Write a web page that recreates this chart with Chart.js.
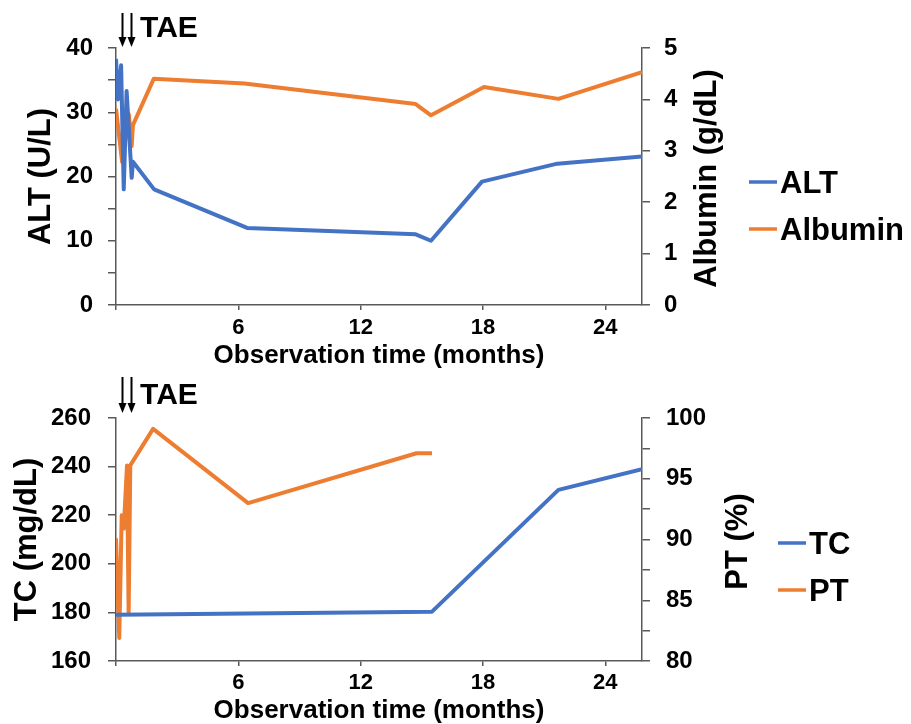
<!DOCTYPE html>
<html>
<head>
<meta charset="utf-8">
<script src="https://cdn.jsdelivr.net/npm/chart.js@4.4.1/dist/chart.umd.min.js"></script>
<style>
  html, body { margin: 0; padding: 0; background: #fff; }
  canvas { display: block; }
</style>
</head>
<body>
<canvas id="topChart" width="911" height="370"></canvas>
<canvas id="bottomChart" width="911" height="354"></canvas>
<script>
// observation time in months
const altMonths = [0, 0.1, 0.25, 0.38, 0.52, 0.77, 0.83, 1.87, 6.43, 14.7, 15.45, 17.95, 21.65, 25.8];
const altValues = [38.3, 32, 37.3, 18, 33.3, 19.8, 22.3, 18, 12, 11, 10, 19.2, 22, 23.1];
const albMonths = [0, 0.3, 0.63, 0.77, 0.83, 1.85, 6.3, 14.7, 15.45, 18.05, 21.7, 25.8];
const albValues = [3.82, 2.78, 3.71, 3.09, 3.5, 4.4, 4.31, 3.91, 3.69, 4.24, 4.01, 4.53];
const tcMonths = [0, 15.5, 21.7, 25.8];
const tcValues = [179, 180.3, 230.4, 238.9];
const ptMonths = [0, 0.16, 0.28, 0.38, 0.54, 0.62, 0.7, 1.82, 6.48, 14.74, 15.5];
const ptValues = [90.1, 81.9, 92, 90.9, 96.1, 83.9, 96.1, 99.1, 93, 97.1, 97.1];
const taeMonths = [0.28, 0.74];
const monthTicks = [0, 6, 12, 18, 24];

const FONT = '"Liberation Sans", Arial, sans-serif';
const AXIS = '#595959';
const BLUE = '#4472C4';
const ORANGE = '#ED7D31';

function points(xs, ys) {
  return xs.map((m, i) => ({ x: m, y: ys[i] }));
}

// TAE arrows, right axis title (reads upward) and legend
const decorPlugin = {
  id: 'decor',
  afterDraw(chart, args, opts) {
    const ctx = chart.ctx;
    const xs = chart.scales.x;
    const area = chart.chartArea;

    ctx.save();
    ctx.strokeStyle = '#000';
    ctx.fillStyle = '#000';
    ctx.lineWidth = 2;
    taeMonths.forEach(m => {
      const px = Math.round(xs.getPixelForValue(m)) + 0.5;
      const tip = area.top - opts.arrowGap;
      ctx.beginPath();
      ctx.moveTo(px, tip - opts.arrowLen);
      ctx.lineTo(px, tip - 6);
      ctx.stroke();
      ctx.beginPath();
      ctx.moveTo(px - 4, tip - 10);
      ctx.lineTo(px + 4, tip - 10);
      ctx.lineTo(px, tip);
      ctx.closePath();
      ctx.fill();
    });
    ctx.font = 'bold 30px ' + FONT;
    ctx.textBaseline = 'middle';
    ctx.textAlign = 'left';
    ctx.fillText('TAE', xs.getPixelForValue(taeMonths[1]) + 9, opts.taeY);
    ctx.restore();

    ctx.save();
    ctx.fillStyle = '#000';
    ctx.font = 'bold 31px ' + FONT;
    ctx.textAlign = 'center';
    ctx.textBaseline = 'middle';
    ctx.translate(opts.rightTitleX, (area.top + area.bottom) / 2 + 2);
    ctx.rotate(-Math.PI / 2);
    ctx.fillText(opts.rightTitle, 0, 0);
    ctx.restore();

    ctx.save();
    ctx.font = 'bold 31px ' + FONT;
    ctx.textAlign = 'left';
    ctx.textBaseline = 'middle';
    chart.data.datasets.forEach((ds, i) => {
      const y = opts.legendY[i];
      ctx.strokeStyle = ds.borderColor;
      ctx.lineWidth = 3.5;
      ctx.beginPath();
      ctx.moveTo(opts.legendX, y);
      ctx.lineTo(opts.legendX + 28, y);
      ctx.stroke();
      ctx.fillStyle = '#000';
      ctx.fillText(ds.label, opts.legendX + 31, y + 2);
    });
    ctx.restore();
  }
};

function yAxis(pos, min, max, step, labelEvery, width, pad, title, titlePad) {
  return {
    position: pos,
    min: min,
    max: max,
    afterFit: s => { s.width = width; },
    ticks: {
      stepSize: step,
      callback: v => (Math.abs(v % labelEvery) < 1e-6 ? v : ''),
      color: '#000',
      font: { family: FONT, size: 24, weight: 'bold', lineHeight: 1 },
      padding: pad
    },
    grid: { drawOnChartArea: false, color: AXIS, tickLength: 8, lineWidth: 1.5 },
    border: { color: AXIS, width: 1.5 },
    title: {
      display: !!title,
      text: title || '',
      color: '#000',
      font: { family: FONT, size: 31, weight: 'bold', lineHeight: 1 },
      padding: { top: titlePad, bottom: 0 }
    }
  };
}

function xAxis(height, tickPad, titlePad) {
  return {
    type: 'linear',
    min: 0,
    max: 25.8,
    afterBuildTicks: s => { s.ticks = monthTicks.map(v => ({ value: v })); },
    afterFit: s => { s.height = height; },
    ticks: {
      callback: v => (v === 0 ? '' : v),
      color: '#000',
      font: { family: FONT, size: 22, weight: 'bold', lineHeight: 1 },
      padding: tickPad,
      maxRotation: 0,
      autoSkip: false
    },
    grid: { drawOnChartArea: false, color: AXIS, tickLength: 5, lineWidth: 1.5 },
    border: { color: AXIS, width: 1.5 },
    title: {
      display: true,
      text: 'Observation time (months)',
      color: '#000',
      font: { family: FONT, size: 26, weight: 'bold', lineHeight: 1 },
      padding: { top: 0, bottom: titlePad }
    }
  };
}

function lineSet(label, data, color, axis) {
  return {
    label: label,
    data: data,
    yAxisID: axis,
    borderColor: color,
    backgroundColor: color,
    borderWidth: 4,
    borderJoinStyle: 'round',
    pointRadius: 0,
    tension: 0,
    fill: false
  };
}

const common = {
  responsive: false,
  animation: false,
  parsing: true,
  plugins: { legend: { display: false }, tooltip: { enabled: false } }
};

new Chart(document.getElementById('topChart').getContext('2d'), {
  type: 'line',
  data: {
    datasets: [
      lineSet('ALT', points(altMonths, altValues), BLUE, 'y'),
      lineSet('Albumin', points(albMonths, albValues), ORANGE, 'y1')
    ]
  },
  options: Object.assign({}, common, {
    layout: { padding: { left: 0, top: 48, right: 169, bottom: 0 } },
    scales: {
      x: xAxis(65, 6.5, 1),
      y: yAxis('left', 0, 40, 5, 10, 116, 15, 'ALT (U/L)', 26),
      y1: yAxis('right', 0, 5, 0.5, 1, 100, 14, null, 0)
    },
    plugins: Object.assign({}, common.plugins, {
      decor: {
        arrowGap: 1, arrowLen: 34, taeY: 29,
        rightTitle: 'Albumin (g/dL)', rightTitleX: 707,
        legendX: 749, legendY: [182, 229]
      }
    })
  }),
  plugins: [decorPlugin]
});

new Chart(document.getElementById('bottomChart').getContext('2d'), {
  type: 'line',
  data: {
    datasets: [
      lineSet('TC', points(tcMonths, tcValues), BLUE, 'y'),
      lineSet('PT', points(ptMonths, ptValues), ORANGE, 'y1')
    ]
  },
  options: Object.assign({}, common, {
    layout: { padding: { left: 0, top: 48, right: 169, bottom: 0 } },
    scales: {
      x: xAxis(63, 6, 0.5),
      y: yAxis('left', 160, 260, 10, 20, 116, 17, 'TC (mg/dL)', 11.5),
      y1: yAxis('right', 80, 100, 2.5, 5, 100, 16, null, 0)
    },
    plugins: Object.assign({}, common.plugins, {
      decor: {
        arrowGap: 5, arrowLen: 36, taeY: 26,
        rightTitle: 'PT (%)', rightTitleX: 738,
        legendX: 778, legendY: [173, 220]
      }
    })
  }),
  plugins: [decorPlugin]
});
</script>
</body>
</html>
